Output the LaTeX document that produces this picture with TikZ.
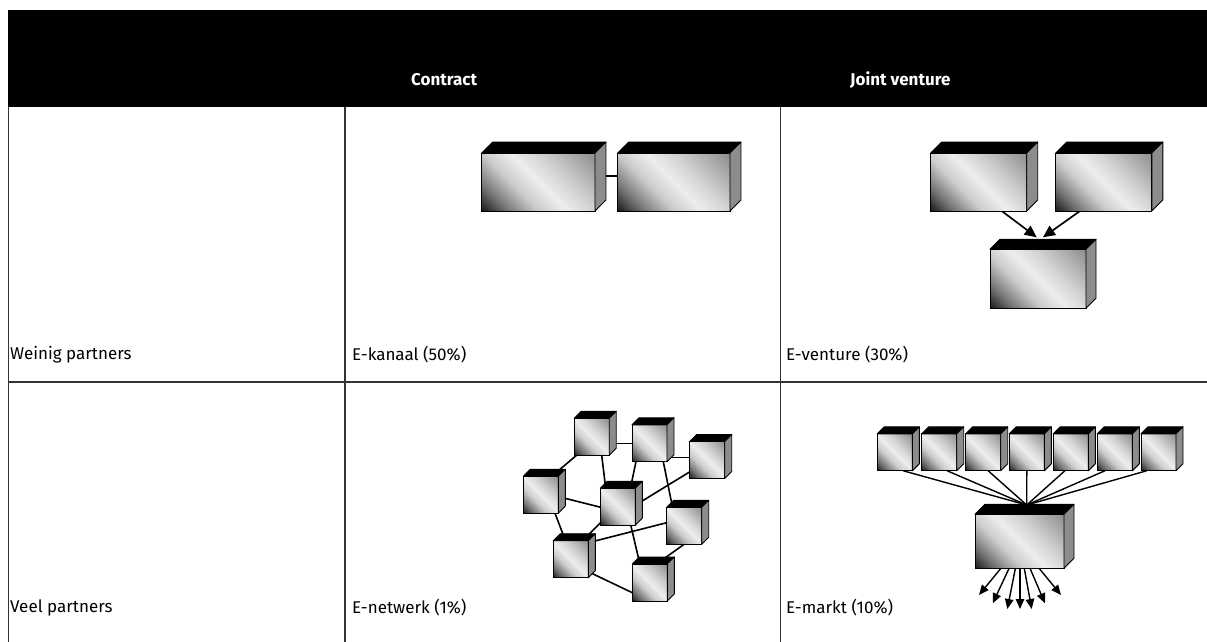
\documentclass[tikz,border=0pt]{standalone}
\usepackage{fontspec}
\setmainfont{Fira Sans}
\usetikzlibrary{arrows.meta,calc,backgrounds}

% diagonal grey gradient for the front face of a block;
% the face's corners fall at 32.3bp (lower left) and 67.7bp (upper right)
\pgfdeclarehorizontalshading{cubeface}{100bp}{%
  color(0bp)=(black!92); color(32.3bp)=(black!90);
  color(37.6bp)=(black!55); color(44.3bp)=(black!20);
  color(50bp)=(black!7); color(55.7bp)=(black!17);
  color(67.7bp)=(black!45); color(100bp)=(black!45)}

% block: name, centre x, centre y, width, height, depth
\newcommand\cubebox[6]{%
  \pgfmathsetmacro\cubereach{(#4+#5)/2}%
  \node[cubefront, minimum width=#4pt, minimum height=#5pt,
    path picture={\shade[shading=cubeface, shading angle=45]
      ([shift={(-\cubereach,-\cubereach)}]path picture bounding box.center) rectangle
      ([shift={(\cubereach,\cubereach)}]path picture bounding box.center);}] (#1) at (#2,#3) {};
  \filldraw[cubetop] (#1.north west) -- ++(#6,-#6)
     -- ([shift={(#6,-#6)}]#1.north east) -- (#1.north east) -- cycle;
  \filldraw[cubeside] (#1.north east) -- ++(#6,-#6)
     -- ([shift={(#6,-#6)}]#1.south east) -- (#1.south east) -- cycle;
}

\begin{document}
\begin{tikzpicture}[x=1pt,y=-1pt,
  rule/.style={draw=black!80, line width=1.3pt},
  cubefront/.style={rectangle, draw=black, fill=black!30, line width=0.9pt, inner sep=0pt, outer sep=0pt},
  cubetop/.style={fill=black, draw=black, line width=0.9pt, line join=round},
  cubeside/.style={fill=black!45, draw=black, line width=0.9pt, line join=round},
  head/.style={font=\bfseries\fontsize{17}{20}\selectfont, text=white, anchor=west, inner sep=0pt},
  cell/.style={font=\fontsize{17}{20}\selectfont, anchor=west, inner sep=0pt},
  link/.style={draw=black, line width=1.6pt},
  bigarrow/.style={draw=black, line width=1.7pt, -{Triangle[length=12pt,width=11pt]}},
  outarrow/.style={draw=black, line width=1.4pt, -{Triangle[length=10pt,width=8.5pt]}}]
\useasboundingbox (0,0) rectangle (1207,642);

% header band and grid
\fill[black] (8,10) rectangle (1207,107);
\draw[rule] (8.5,107) -- (8.5,642);
\draw[rule] (345,107) -- (345,642);
\draw[rule] (780.5,107) -- (780.5,642);
\draw[rule] (8.5,382) -- (1207,382);

\node[head] (hc) at (411,80) {Contract};
\node[head] (hj) at (850,80) {Joint venture};

\node[cell] (r1) at (10,355) {Weinig partners};
\node[cell] (c11) at (352,355) {E-kanaal (50\%)};
\node[cell] (c12) at (786,355) {E-venture (30\%)};
\node[cell] (r2) at (10,608) {Veel partners};
\node[cell] (c21) at (352,608) {E-netwerk (1\%)};
\node[cell] (c22) at (786,608) {E-markt (10\%)};

% E-kanaal: two linked blocks
\cubebox{ka}{538.3}{182}{113.3}{58}{11}
\cubebox{kb}{673.8}{182}{112.3}{58}{11}

% E-venture: two parents feeding a joint block
\cubebox{va}{978.7}{182}{96}{58}{11}
\cubebox{vb}{1103.8}{182}{96}{58}{11}
\cubebox{vc}{1038}{278.7}{96}{59}{10}

% E-netwerk: eight small blocks
\cubebox{n1}{591.7}{436.7}{35}{37}{7}
\cubebox{n2}{649.5}{443.3}{35}{37}{7}
\cubebox{n3}{707.2}{460}{35}{37}{7}
\cubebox{n4}{540.8}{494.7}{35}{37}{7}
\cubebox{n5}{617.8}{506.7}{35}{37}{7}
\cubebox{n6}{684.2}{525.8}{35}{37}{7}
\cubebox{n7}{570.8}{559.2}{35}{37}{7}
\cubebox{n8}{649.8}{582.5}{35}{37}{7}

% E-markt: seven suppliers, one market block
\cubebox{s1}{894.8}{452.3}{35}{37}{7}
\cubebox{s2}{939.2}{452.3}{35}{37}{7}
\cubebox{s3}{983.2}{452.3}{35}{37}{7}
\cubebox{s4}{1026.8}{452.3}{35}{37}{7}
\cubebox{s5}{1070.8}{452.3}{35}{37}{7}
\cubebox{s6}{1114.8}{452.3}{35}{37}{7}
\cubebox{s7}{1158.5}{452.3}{35}{37}{7}
\cubebox{mk}{1019.5}{541.3}{89}{54}{10}

\coordinate (hub) at ([shift={(7.2,-36.3)}]mk.center);
\coordinate (src) at ([shift={(0.5,3.7)}]mk.center);
\coordinate (o1) at (979,595);
\coordinate (o2) at (992.7,603.3);
\coordinate (o3) at (1007.3,609);
\coordinate (o4) at (1020,609);
\coordinate (o5) at (1031.7,609);
\coordinate (o6) at (1045,603.3);
\coordinate (o7) at (1061,595);

\begin{scope}[on background layer]
  % E-kanaal link
  \draw[link] ([shift={(40,-6.3)}]ka.center) -- ([shift={(-40,-6.3)}]kb.center);
  % E-venture arrows
  \draw[bigarrow] ([shift={(23,29)}]va.center) -- ([shift={(-1.3,-41.4)}]vc.center);
  \draw[bigarrow] ([shift={(-23.8,29)}]vb.center) -- ([shift={(5,-41.4)}]vc.center);
  % E-netwerk links
  \draw[link] ([shift={(-13,16.7)}]n1.center) -- ([shift={(16.2,-22.8)}]n4.center);
  \draw[link] ([shift={(20.3,6.6)}]n1.center) -- ([shift={(-13.5,0)}]n2.center);
  \draw[link] ([shift={(9.5,14.3)}]n1.center) -- ([shift={(-12.3,-20)}]n5.center);
  \draw[link] ([shift={(-12.7,14.4)}]n2.center) -- ([shift={(13.1,-20.7)}]n5.center);
  \draw[link] ([shift={(20.5,14)}]n2.center) -- ([shift={(-13.2,-2.7)}]n3.center);
  \draw[link] ([shift={(13,14.4)}]n2.center) -- ([shift={(-11.7,-18.5)}]n6.center);
  \draw[link] ([shift={(-13.8,9.6)}]n3.center) -- ([shift={(19.8,-2.9)}]n5.center);
  \draw[link] ([shift={(20.2,2.6)}]n4.center) -- ([shift={(-13.1,1.6)}]n5.center);
  \draw[link] ([shift={(12.8,14.9)}]n4.center) -- ([shift={(-6.1,-20.5)}]n7.center);
  \draw[link] ([shift={(-15,13.8)}]n5.center) -- ([shift={(14.7,-21.4)}]n7.center);
  \draw[link] ([shift={(12,14.4)}]n5.center) -- ([shift={(-10.6,-21.3)}]n8.center);
  \draw[link] ([shift={(13.6,-15.5)}]n7.center) -- ([shift={(-13.6,-4.1)}]n6.center);
  \draw[link] ([shift={(13.9,10.8)}]n7.center) -- ([shift={(-13.9,11.9)}]n8.center);
  \draw[link] ([shift={(3.1,16.2)}]n6.center) -- ([shift={(13.7,-23.5)}]n8.center);
  % E-markt supplier links
  \draw[link, line width=1.4pt] ([xshift=8.5pt]s1.south) -- (hub);
  \draw[link, line width=1.4pt] ([xshift=8pt]s2.south) -- (hub);
  \draw[link, line width=1.4pt] ([xshift=5pt]s3.south) -- (hub);
  \draw[link, line width=1.4pt] (s4.south) -- (hub);
  \draw[link, line width=1.4pt] ([xshift=-6pt]s5.south) -- (hub);
  \draw[link, line width=1.4pt] ([xshift=-10pt]s6.south) -- (hub);
  \draw[link, line width=1.4pt] ([xshift=-12pt]s7.south) -- (hub);
  % E-markt outlets
  \foreach \o in {o1,o2,o3,o4,o5,o6,o7}
    \draw[outarrow] (src) -- (\o);
\end{scope}
\end{tikzpicture}
\end{document}
